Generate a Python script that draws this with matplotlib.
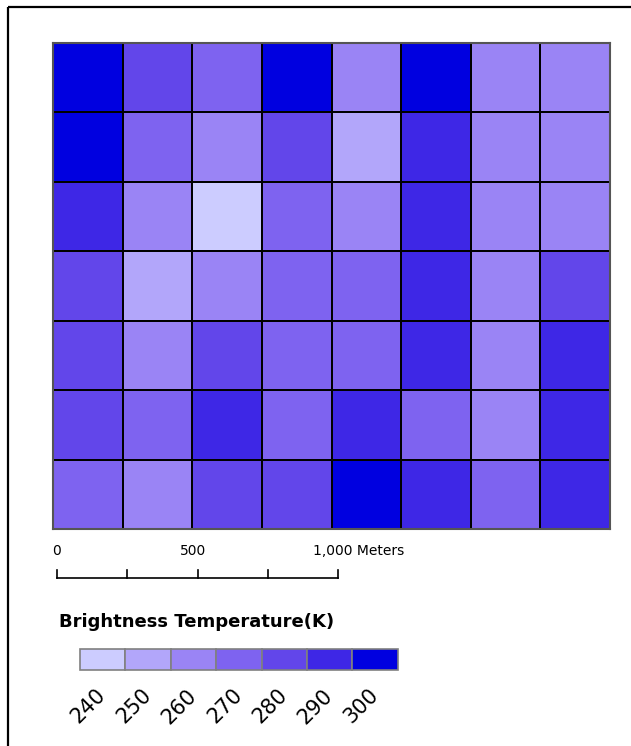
import matplotlib
matplotlib.use("Agg")
import matplotlib.pyplot as plt
import numpy as np
from matplotlib.colors import ListedColormap, BoundaryNorm
from matplotlib.patches import Rectangle

plt.rcParams['font.family'] = ['DejaVu Sans']

# ------------ data ------------------ #
# brightness temperature class (K) of each cell, top row first
classes = [240, 250, 260, 270, 280, 290, 300]
class_colors = ["#ccccff", "#b2a6fa", "#9a84f5", "#7e63f0", "#6246ea", "#3e27e6", "#0000e0"]

row0 = [300, 280, 270, 300, 260, 300, 260, 260]
row1 = [300, 270, 260, 280, 250, 290, 260, 260]
row2 = [290, 260, 240, 270, 260, 290, 260, 260]
row3 = [280, 250, 260, 270, 270, 290, 260, 280]
row4 = [280, 260, 280, 270, 270, 290, 260, 290]
row5 = [280, 270, 290, 270, 290, 270, 260, 290]
row6 = [270, 260, 280, 280, 300, 290, 270, 290]

scale_ticks = [0, 250, 500, 750, 1000]
scale_labels = ["0", "500", "1,000 Meters"]

W, H = 631, 746
fig = plt.figure(figsize=(W / 100, H / 100), dpi=100)

# overlay in pixel coords for frame, scale bar and legend
ov = fig.add_axes([0, 0, 1, 1])
ov.set_xlim(0, W)
ov.set_ylim(H, 0)
ov.axis("off")
ov.add_patch(Rectangle((8, 7), 700, 800, fill=False, edgecolor="black", lw=1.6))

# ------------ grid ------------------ #
grid = np.array([row0, row1, row2, row3, row4, row5, row6])
cmap = ListedColormap(class_colors)
norm = BoundaryNorm(np.arange(235, 310, 10), cmap.N)

gl, gr, gt, gb = 53, 610, 43, 529
ax = fig.add_axes([gl / W, 1 - gb / H, (gr - gl) / W, (gb - gt) / H])
ax.pcolormesh(grid, cmap=cmap, norm=norm, edgecolors="black", linewidth=1.3)
ax.set_xlim(0, grid.shape[1])
ax.set_ylim(grid.shape[0], 0)
ax.set_xticks([])
ax.set_yticks([])
for s in ax.spines.values():
    s.set_color("#555555")
    s.set_linewidth(1.5)

# ------------ scale bar ------------------ #
x0, x1, ybar = 57, 338, 578
px = lambda m: x0 + (x1 - x0) * m / 1000.0
ov.plot([x0, x1], [ybar, ybar], color="black", lw=1.2)
for m in scale_ticks:
    ov.plot([px(m), px(m)], [ybar, ybar - 8], color="black", lw=1.2)
ov.text(52, 551, scale_labels[0], fontsize=10, va="center", ha="left")
ov.text(193, 551, scale_labels[1], fontsize=10, va="center", ha="center")
ov.text(313, 551, scale_labels[2], fontsize=10, va="center", ha="left")

# ------------ legend ------------------ #
ov.text(59, 622, "Brightness Temperature(K)", fontsize=13, fontweight="bold",
        va="center", ha="left")
lx, ly, lw_, lh = 80, 649, 45.4, 21
for i, (c, col) in enumerate(zip(classes, class_colors)):
    ov.add_patch(Rectangle((lx + i * lw_, ly), lw_, lh, facecolor=col,
                           edgecolor="#808080", lw=1.2))
    ov.text(lx + i * lw_ + lw_ / 2 - 7, ly + lh + 15, str(c), fontsize=15,
            rotation=45, rotation_mode="anchor", ha="right", va="top")

fig.savefig("out.png", dpi=100)
